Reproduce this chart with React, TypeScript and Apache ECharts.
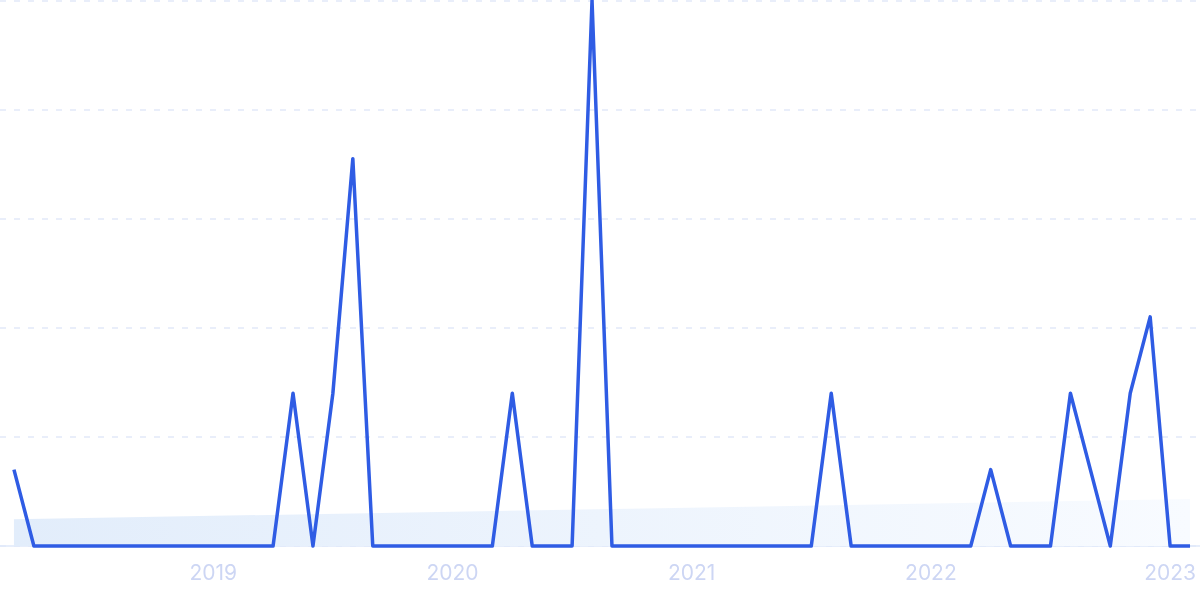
import React, { useEffect, useRef } from "react";
import * as echarts from "echarts";

// Monthly points, March 2018 .. February 2023
const months: string[] = [];
for (let y = 2018; y <= 2023; y++) {
  for (let m = 1; m <= 12; m++) {
    if ((y === 2018 && m < 3) || (y === 2023 && m > 2)) continue;
    months.push(`${y}-${String(m).padStart(2, "0")}`);
  }
}

const values: number[] = [
  14, 0, 0, 0, 0, 0, 0, 0, 0, 0, // 2018-03 .. 2018-12
  0, 0, 0, 0, 28, 0, 28, 71, 0, 0, 0, 0, // 2019
  0, 0, 0, 28, 0, 0, 0, 100, 0, 0, 0, 0, // 2020
  0, 0, 0, 0, 0, 0, 0, 28, 0, 0, 0, 0, // 2021
  0, 0, 0, 14, 0, 0, 0, 28, 14, 0, 28, 42, // 2022
  0, 0, // 2023
];

const trendStart = 4.9;
const trendEnd = 8.6;

const yearTicks = ["2019", "2020", "2021", "2022", "2023"];

export default function App() {
  const ref = useRef<HTMLDivElement>(null);
  useEffect(() => {
    if (!ref.current) return;
    const chart = echarts.init(ref.current, null, { renderer: "svg" });
    const lineData = values.map((v, i) => [i, v]);
    const trendData = [
      [0, trendStart],
      [months.length - 1, trendEnd],
    ];
    const yearIdx = yearTicks.map((y) => months.indexOf(`${y}-01`));
    chart.setOption({
      animation: false,
      grid: { left: 0, right: 0, top: 0.5, bottom: 53 },
      xAxis: {
        type: "value",
        min: -0.7,
        max: months.length - 0.5,
        axisLine: { show: true, lineStyle: { color: "#dfe8fa", width: 1.5 } },
        axisTick: { show: false },
        splitLine: { show: false },
        axisLabel: {
          customValues: yearIdx,
          formatter: (v: number) => months[Math.round(v)]?.slice(0, 4) ?? "",
          color: "#cdd6f4",
          fontSize: 21,
          fontFamily: "Inter, sans-serif",
          margin: 16,
        },
      },
      yAxis: {
        type: "value",
        min: 0,
        max: 100,
        interval: 20,
        axisLabel: { show: false },
        axisLine: { show: false },
        axisTick: { show: false },
        splitLine: {
          show: true,
          lineStyle: { color: "#e2e9f9", type: [6, 8], width: 1.5 },
        },
      },
      series: [
        {
          type: "line",
          data: trendData,
          symbol: "none",
          silent: true,
          lineStyle: { width: 0 },
          areaStyle: {
            opacity: 1,
            color: new echarts.graphic.LinearGradient(0, 0, 1, 0, [
              { offset: 0, color: "#e2edfb" },
              { offset: 1, color: "#f8fbff" },
            ]),
          },
          z: 1,
        },
        {
          type: "line",
          data: lineData,
          symbol: "none",
          clip: false,
          lineStyle: { color: "#2f5ce4", width: 3.5, join: "round" },
          z: 3,
        },
      ],
    });
    return () => chart.dispose();
  }, []);
  return (
    <div
      ref={ref}
      style={{ position: "fixed", left: 0, top: 0, width: 1200, height: 599 }}
    />
  );
}
